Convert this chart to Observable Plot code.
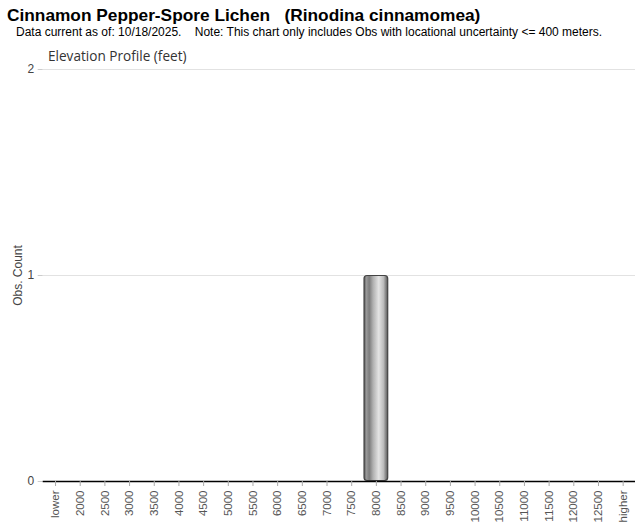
<!DOCTYPE html>
<html>
<head>
<meta charset="utf-8">
<script src="https://cdn.jsdelivr.net/npm/d3@7"></script>
<script src="https://cdn.jsdelivr.net/npm/@observablehq/plot@0.6"></script>
<style>
  body { margin: 0; background: #fff; }
  #wrap { position: relative; width: 640px; height: 523px; overflow: hidden; font-family: "Liberation Sans", Arial, sans-serif; }
  .t { position: absolute; white-space: pre; line-height: 1; }
  #title { left: 7px; top: 7px; font-size: 17.3px; font-weight: bold; color: #000; }
  #sub { left: 16px; top: 26px; font-size: 12px; color: #000; }
  #ctitle { left: 48px; top: 49px; font-size: 13.6px; color: #333; font-family: "Open Sans", sans-serif; z-index: 2; }
  #chart { position: absolute; left: 0; top: 42px; }
</style>
</head>
<body>
<div id="wrap">
  <div class="t" id="title">Cinnamon Pepper-Spore Lichen   (Rinodina cinnamomea)</div>
  <div class="t" id="sub">Data current as of: 10/18/2025.    Note: This chart only includes Obs with locational uncertainty &lt;= 400 meters.</div>
  <div class="t" id="ctitle">Elevation Profile (feet)</div>
  <div id="chart"></div>
</div>
<script>
const categories = ["lower","2000","2500","3000","3500","4000","4500","5000","5500","6000","6500","7000","7500","8000","8500","9000","9500","10000","10500","11000","11500","12000","12500","higher"];
const counts =     [0,0,0,0,0,0,0,0,0,0,0,0,0,1,0,0,0,0,0,0,0,0,0,0];
const yTicks = [0, 1, 2];

const data = categories.map((c, i) => ({cat: c, n: counts[i]}));

const defs = () => {
  const d = d3.create("svg:defs");
  const g = d.append("linearGradient").attr("id", "cyl").attr("x1", "0").attr("x2", "1").attr("y1", "0").attr("y2", "0");
  [[0, "#555555"], [0.1, "#999999"], [0.22, "#7c7c7c"], [0.38, "#b0b0b0"], [0.62, "#e4e4e4"], [0.82, "#bdbdbd"], [1, "#585858"]]
    .forEach(([o, c]) => g.append("stop").attr("offset", o).attr("stop-color", c));
  return d.node();
};

const chart = Plot.plot({
  width: 640,
  height: 481,
  marginLeft: 42.7,
  marginRight: 5,
  marginTop: 27,
  marginBottom: 42,
  style: {fontFamily: "Liberation Sans, Arial, sans-serif", fontSize: "11px", background: "transparent"},
  x: {domain: categories, padding: 0, round: false, label: null},
  y: {domain: [0, 2], label: null},
  marks: [
    defs,
    Plot.gridY(yTicks, {stroke: "#e2e2e2", strokeOpacity: 1}),
    Plot.axisY(yTicks, {tickSize: 5, tickPadding: 4, stroke: "#ccc", color: "#444", tickFormat: d3.format("d"), label: "Obs. Count", labelAnchor: "center", labelArrow: "none", labelOffset: 30, fontSize: 12}),
    Plot.barY(data.filter(d => d.n > 0), {x: "cat", y: "n", fill: "url(#cyl)", stroke: "#444", strokeWidth: 1.2, rx: 3, inset: 0.5}),
    Plot.ruleY([0], {stroke: "#000", strokeWidth: 1.5}),
    Plot.axisX({tickSize: 5, tickPadding: 4, tickRotate: -90, stroke: "#aaa", color: "#555", fontSize: 11.5, label: null})
  ]
});
document.getElementById("chart").appendChild(chart);
</script>
</body>
</html>
